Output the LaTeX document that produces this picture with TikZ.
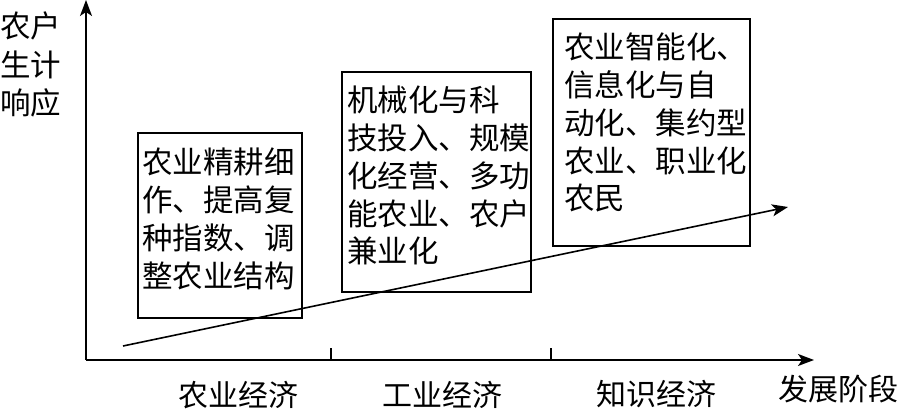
\documentclass[tikz,border=0pt]{standalone}
\usepackage{fontspec}
\setmainfont{Noto Sans CJK SC}
\usetikzlibrary{arrows.meta}
\tikzset{
  ax/.style={line width=1.6pt,-{Stealth[length=16pt,width=12pt,inset=4pt]}},
  boxr/.style={draw,line width=1.5pt,rectangle,inner sep=0pt},
  txt/.style={inner sep=0pt,font=\fontsize{30}{37.7}\selectfont},
  btxt/.style={inner sep=0pt,anchor=base west,font=\fontsize{30.5}{37.7}\selectfont},
  tick/.style={line width=1.5pt}
}
\begin{document}
\begin{tikzpicture}[x=1pt,y=-1pt]
\useasboundingbox (0,0) rectangle (900,411);
% axes
\coordinate (O) at (86,360);
\coordinate (Ytop) at (86,0);
\coordinate (Xend) at (814,360);
\draw[ax] (O) -- (Ytop);
\draw[ax] (O) -- (Xend);
% ticks
\coordinate (t1a) at (331,360); \coordinate (t1b) at (331,348);
\coordinate (t2a) at (551,360); \coordinate (t2b) at (551,348);
\draw[tick] (t1a) -- (t1b);
\draw[tick] (t2a) -- (t2b);
% boxes
\draw[boxr] (138,133) rectangle (302,318);
\draw[boxr] (342,72) rectangle (531,292);
\draw[boxr] (553,19) rectangle (750,246);
\node[btxt] (b1) at (142,174) {\parbox[t]{200pt}{农业精耕细\\作、提高复\\种指数、调\\整农业结构}};
\node[btxt] (b2) at (347,112) {\parbox[t]{200pt}{机械化与科\\技投入、规模\\化经营、多功\\能农业、农户\\兼业化}};
\node[btxt] (b3) at (564,59) {\parbox[t]{200pt}{农业智能化、\\信息化与自\\动化、集约型\\农业、职业化\\农民}};
% trend arrow
\coordinate (s) at (123,346);
\coordinate (e) at (788,207);
\draw[ax] (s) -- (e);
% axis labels
\node[btxt] (yl) at (0,38) {\parbox[t]{100pt}{\fontsize{30.5}{38.5}\selectfont 农户\\生计\\响应}};
\node[txt] (l1) at (238,395) {农业经济};
\node[txt] (l2) at (442,395) {工业经济};
\node[txt] (l3) at (656,394) {知识经济};
\node[txt] (l4) at (838,389) {发展阶段};
\end{tikzpicture}
\end{document}
